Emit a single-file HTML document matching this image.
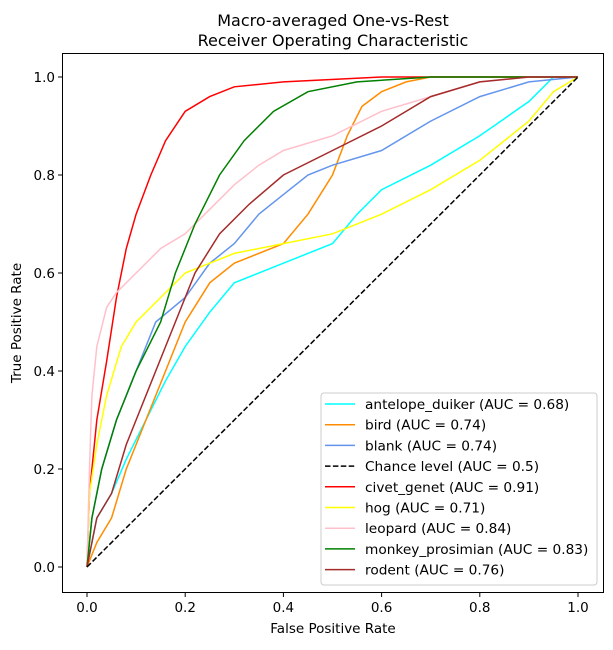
<!DOCTYPE html>
<html><head><meta charset="utf-8"><style>
body{margin:0;background:#fff;}
svg text{font-family:"DejaVu Sans","Liberation Sans",sans-serif;}
</style></head><body>
<svg id="chart" width="613" height="645" xmlns="http://www.w3.org/2000/svg">
<text x="333" y="26" font-size="16" text-anchor="middle">Macro-averaged One-vs-Rest</text>
<text x="333" y="46" font-size="16" text-anchor="middle">Receiver Operating Characteristic</text>
<g id="plot"></g>
<rect x="62.5" y="53.5" width="541" height="539" fill="none" stroke="#000" stroke-width="1"/>
<text x="333" y="633" font-size="13.5" text-anchor="middle">False Positive Rate</text>
<text transform="translate(21,323) rotate(-90)" font-size="13.5" text-anchor="middle">True Positive Rate</text>
<g id="legend"></g>
</svg>
<script>
const ticks=[0,0.2,0.4,0.6,0.8,1.0];
const tickLabels=["0.0","0.2","0.4","0.6","0.8","1.0"];
const names=["antelope_duiker","bird","blank","civet_genet","hog","leopard","monkey_prosimian","rodent"];
const colors=["cyan","darkorange","cornflowerblue","red","yellow","pink","green","brown"];
const aucs=["0.68","0.74","0.74","0.91","0.71","0.84","0.83","0.76"];
const fpr_antelope=[0,0.02,0.05,0.08,0.12,0.16,0.2,0.25,0.3,0.4,0.5,0.55,0.6,0.7,0.8,0.9,0.95,1];
const tpr_antelope=[0,0.1,0.15,0.22,0.3,0.38,0.45,0.52,0.58,0.62,0.66,0.72,0.77,0.82,0.88,0.95,1,1];
const fpr_bird=[0,0.02,0.05,0.08,0.12,0.16,0.2,0.25,0.3,0.4,0.45,0.5,0.53,0.56,0.6,0.65,0.7,1];
const tpr_bird=[0,0.05,0.1,0.2,0.3,0.4,0.5,0.58,0.62,0.66,0.72,0.8,0.88,0.94,0.97,0.99,1,1];
const fpr_blank=[0,0.01,0.03,0.06,0.1,0.14,0.2,0.25,0.3,0.35,0.4,0.45,0.5,0.6,0.7,0.8,0.9,1];
const tpr_blank=[0,0.1,0.2,0.3,0.4,0.5,0.55,0.62,0.66,0.72,0.76,0.8,0.82,0.85,0.91,0.96,0.99,1];
const fpr_civet=[0,0.005,0.02,0.04,0.06,0.08,0.1,0.13,0.16,0.2,0.25,0.3,0.4,0.6,1];
const tpr_civet=[0,0.15,0.3,0.42,0.55,0.65,0.72,0.8,0.87,0.93,0.96,0.98,0.99,1,1];
const fpr_hog=[0,0.005,0.02,0.04,0.07,0.1,0.15,0.2,0.3,0.4,0.5,0.6,0.7,0.8,0.9,0.95,1];
const tpr_hog=[0,0.15,0.25,0.35,0.45,0.5,0.55,0.6,0.64,0.66,0.68,0.72,0.77,0.83,0.91,0.97,1];
const fpr_leopard=[0,0.005,0.01,0.02,0.04,0.06,0.1,0.15,0.2,0.25,0.3,0.35,0.4,0.5,0.6,0.7,0.8,0.9,1];
const tpr_leopard=[0,0.2,0.35,0.45,0.53,0.56,0.6,0.65,0.68,0.73,0.78,0.82,0.85,0.88,0.93,0.96,0.99,1,1];
const fpr_monkey=[0,0.01,0.03,0.06,0.1,0.15,0.18,0.22,0.27,0.32,0.38,0.45,0.55,0.7,1];
const tpr_monkey=[0,0.1,0.2,0.3,0.4,0.5,0.6,0.7,0.8,0.87,0.93,0.97,0.99,1,1];
const fpr_rodent=[0,0.02,0.05,0.08,0.1,0.14,0.18,0.22,0.27,0.33,0.4,0.5,0.6,0.7,0.8,0.9,1];
const tpr_rodent=[0,0.1,0.15,0.25,0.3,0.4,0.5,0.6,0.68,0.74,0.8,0.85,0.9,0.96,0.99,1,1];
const series=[[fpr_antelope,tpr_antelope],[fpr_bird,tpr_bird],[fpr_blank,tpr_blank],[fpr_civet,tpr_civet],[fpr_hog,tpr_hog],[fpr_leopard,tpr_leopard],[fpr_monkey,tpr_monkey],[fpr_rodent,tpr_rodent]];
const NS="http://www.w3.org/2000/svg";
const X=v=>87+v*491, Y=v=>567-v*490;
const plot=document.getElementById('plot');
function mk(tag,attrs,parent){const e=document.createElementNS(NS,tag);for(const k in attrs)e.setAttribute(k,attrs[k]);parent.appendChild(e);return e;}
ticks.forEach((t,i)=>{
  const a=mk('line',{x1:X(t),x2:X(t),y1:593,y2:597,stroke:'#000'},plot);
  
  
  const b=mk('text',{x:X(t),y:612,'font-size':13.5,'text-anchor':'middle'},plot);b.textContent=tickLabels[i];
  
  
  const c=mk('line',{x1:58,x2:62,y1:Y(t),y2:Y(t),stroke:'#000'},plot);
  
  
  const d=mk('text',{x:55,y:Y(t)+5,'font-size':13.5,'text-anchor':'end'},plot);d.textContent=tickLabels[i];
  
  
});
series.forEach((s,i)=>{
  const pts=s[0].map((f,j)=>X(f)+','+Y(s[1][j])).join(' ');
  const p=mk('polyline',{points:pts,fill:'none',stroke:colors[i],'stroke-width':1.5},plot);
  
  
});
const ch=mk('line',{x1:X(0),y1:Y(0),x2:X(1),y2:Y(1),stroke:'#000','stroke-width':1.5,'stroke-dasharray':'5.5,2.4'},plot);


const lg=document.getElementById('legend');


mk('rect',{x:321,y:393,width:276,height:192,rx:3,fill:'#fff','fill-opacity':0.8,stroke:'#ccc'},lg);
const entries=[];
names.forEach((n,i)=>entries.push({label:n+' (AUC = '+aucs[i]+')',color:colors[i],dash:null}));
entries.splice(3,0,{label:'Chance level (AUC = 0.5)',color:'#000',dash:'5.5,2.4'});
entries.forEach((e,i)=>{
  const y=404+i*20.7;
  const g=mk('g',{},lg);
  
  
  const l=mk('line',{x1:325,x2:355,y1:y,y2:y,stroke:e.color,'stroke-width':1.5},g);
  if(e.dash)l.setAttribute('stroke-dasharray',e.dash);
  const t=mk('text',{x:365,y:y+5,'font-size':13.7},g);t.textContent=e.label;
});
</script>
</body></html>
